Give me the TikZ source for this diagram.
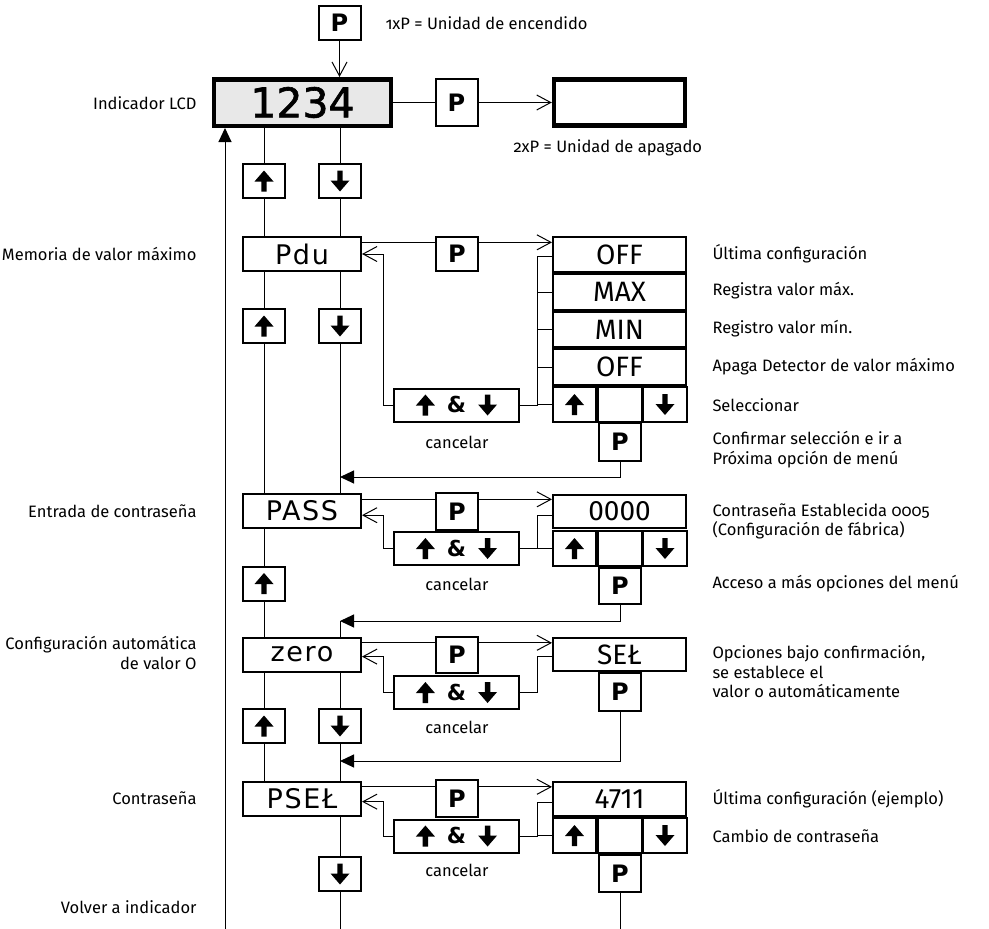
\documentclass[tikz,border=0pt]{standalone}
\usepackage{fontspec}
\setmainfont{Fira Sans}[Numbers=OldStyle]
\newfontfamily\lcdfont{DejaVu Sans}[LetterSpace=6]
\newfontfamily\bigfont{DejaVu Sans}[FakeBold=1.5]
\newfontfamily\keyfont{DejaVu Sans}
\newfontfamily\optfont{Fira Sans}
\usetikzlibrary{arrows.meta}

% heavy arrow keys
\newcommand{\keyup}{\tikz[x=1pt,y=1pt,baseline=-7pt,line width=0pt]
  \fill (0,11) -- (9.5,0) -- (2.7,0) -- (2.7,-10) -- (-2.7,-10) -- (-2.7,0) -- (-9.5,0) -- cycle;}
\newcommand{\keydn}{\tikz[x=1pt,y=1pt,baseline=-7pt,line width=0pt]
  \fill (0,-10) -- (9.5,1) -- (2.7,1) -- (2.7,11) -- (-2.7,11) -- (-2.7,1) -- (-9.5,1) -- cycle;}
\newcommand{\updn}{\keyup\hspace{12pt}\&\hspace{12pt}\keydn}

\begin{document}
\begin{tikzpicture}[x=1pt,y=-1pt,line width=1pt,
  >={Straight Barb[length=14pt,width=15pt]},
  back/.style={-{Triangle[length=14pt,width=13pt]}},
  lcd/.style={draw,line width=4.5pt,fill=gray!18,minimum width=177pt,minimum height=46.5pt,inner sep=0pt,font=\bigfont\fontsize{41}{41}\selectfont},
  disp/.style={draw,line width=2pt,minimum width=118pt,minimum height=34pt,inner sep=0pt,font=\lcdfont\fontsize{27}{27}\selectfont},
  key/.style={draw,fill=white,line width=2pt,minimum width=42pt,minimum height=34pt,inner sep=0pt,font=\keyfont\bfseries\fontsize{24}{24}\selectfont},
  opt/.style={draw,line width=2pt,minimum width=133pt,minimum height=35.5pt,inner sep=0pt,font=\optfont\fontsize{28}{28}\selectfont},
  cell/.style={key,minimum width=43.5pt,minimum height=35.5pt},
  both/.style={key,minimum width=125pt,minimum height=33pt,font=\keyfont\bfseries\fontsize{22}{22}\selectfont},
  lbl/.style={inner sep=0pt,font=\fontsize{16.5}{19.5}\selectfont}]
\useasboundingbox (0,0) rectangle (989,929);

% display and power key
\node[key] (p0) at (339.5,23) {P};
\node[lbl,anchor=west] (t0) at (385,23) {1xP = Unidad de encendido};
\node[lcd] (lcd) at (302.5,102.5) {1234};
\node[key,minimum height=47pt] (p1) at (456.5,102.5) {P};
\node[lcd,fill=none,minimum width=131pt,minimum height=46pt] (blank) at (619.5,102.5) {};
\node[lbl,anchor=west] (t1) at (513,148) {2xP = Unidad de apagado};
\node[key] (u1) at (264,181) {\keyup};
\node[key] (d1) at (340,181) {\keydn};

% Pdu
\node[disp] (pdu) at (302,254) {Pdu};
\node[key] (p2) at (457,254) {P};
\node[opt] (o1) at (619.5,254.5) {OFF};
\node[opt] (o2) at (619.5,292) {MAX};
\node[opt] (o3) at (619.5,329.5) {MIN};
\node[opt] (o4) at (619.5,367) {OFF};
\node[cell] (c1l) at (574.5,404.5) {\keyup};
\node[cell] (c1m) at (620,404.5) {};
\node[cell] (c1r) at (665,404.5) {\keydn};
\node[both] (b1) at (456.5,405) {\updn};
\node[lbl] (x1) at (457,442) {cancelar};
\node[key,minimum height=38pt] (s1) at (620,442) {P};
\node[key] (u2) at (264,326) {\keyup};
\node[key] (d2) at (340,326) {\keydn};

% PASS
\node[disp] (pass) at (302,511) {PASS};
\node[key,minimum height=37pt] (p3) at (457,511.5) {P};
\node[both] (b2) at (456.5,548.5) {\updn};
\node[opt,minimum height=33pt] (o5) at (619.5,511.5) {0000};
\node[cell] (c2l) at (574.5,548.5) {\keyup};
\node[cell] (c2m) at (620,548.5) {};
\node[cell] (c2r) at (665,548.5) {\keydn};
\node[lbl] (x2) at (457,584) {cancelar};
\node[key,minimum height=36pt] (s2) at (620,586) {P};
\node[key] (u3) at (264,583.5) {\keyup};

% zero
\node[disp] (zero) at (302,654.5) {zero};
\node[key,minimum height=36pt] (p4) at (457,655) {P};
\node[both] (b3) at (456.5,692.5) {\updn};
\node[opt,minimum height=33.5pt] (o6) at (619.5,654.5) {SEŁ};
\node[key,minimum height=38pt] (s3) at (620,692) {P};
\node[lbl] (x3) at (457,727) {cancelar};
\node[key] (u4) at (264,726) {\keyup};
\node[key] (d4) at (340,726) {\keydn};

% PSEL
\node[disp] (psel) at (302,798.5) {PSEŁ};
\node[key,minimum height=37pt] (p5) at (457,798.5) {P};
\node[both] (b4) at (456.5,836) {\updn};
\node[opt,minimum height=34pt] (o7) at (619.5,799) {4711};
\node[cell] (c4l) at (574.5,835.5) {\keyup};
\node[cell] (c4m) at (620,835.5) {};
\node[cell] (c4r) at (665,835.5) {\keydn};
\node[lbl] (x4) at (457,870) {cancelar};
\node[key,minimum height=37pt] (s4) at (620,873.5) {P};
\node[key] (d5) at (340,874) {\keydn};

\coordinate (r1) at (340,477);
\coordinate (r2) at (340,621);
\coordinate (r3) at (340,761);
\coordinate (e0) at (225,929);
\coordinate (e1) at (340,929);
\coordinate (e2) at (620,929);

% left texts
\node[lbl,anchor=east] (l0) at (197,103) {Indicador LCD};
\node[lbl,anchor=east] (l1) at (197,254) {Memoria de valor máximo};
\node[lbl,anchor=east] (l2) at (197,511) {Entrada de contraseña};
\node[lbl,anchor=east,align=right] (l3) at (197,653) {Configuración automática\\de valor O};
\node[lbl,anchor=east] (l4) at (197,798) {Contraseña};
\node[lbl,anchor=east] (l5) at (197,907) {Volver a indicador};

% right texts
\node[lbl,anchor=west] (m1) at (712,254) {Última configuración};
\node[lbl,anchor=west] (m2) at (712,291) {Registra valor máx.};
\node[lbl,anchor=west] (m3) at (712,329) {Registro valor mín.};
\node[lbl,anchor=west] (m4) at (712,367) {Apaga Detector de valor máximo};
\node[lbl,anchor=west] (m5) at (712,405) {Seleccionar};
\node[lbl,anchor=west,align=left] (m6) at (712,449.5) {Confirmar selección e ir a\\Próxima opción de menú};
\node[lbl,anchor=west,align=left] (m7) at (712,521.5) {Contraseña Establecida 0005\\(Configuración de fábrica)};
\node[lbl,anchor=west] (m8) at (712,584) {Acceso a más opciones del menú};
\node[lbl,anchor=west,align=left] (m9) at (712,671.5) {Opciones bajo confirmación,\\se establece el\\valor o automáticamente};
\node[lbl,anchor=west] (m10) at (712,799) {Última configuración (ejemplo)};
\node[lbl,anchor=west] (m11) at (712,836) {Cambio de contraseña};

% connectors
\draw[->] (p0) -- (p0 |- lcd.north);
\draw (lcd) -- (p1);
\draw[->] (p1) -- (blank);
\foreach \k/\a/\b in {u1/lcd/pdu, d1/lcd/pdu, u2/pdu/pass, d2/pdu/pass,
                      u3/pass/zero, u4/zero/psel, d4/zero/psel}
  {\draw (\k |- \a.south) -- (\k);
   \draw (\k) -- (\k |- \b.north);}
\draw (d5 |- psel.south) -- (d5);
\draw (d5) -- (e1);
\draw (r2) -- (r2 |- zero.north);
\draw[back] (e0) -- (e0 |- lcd.south);

\foreach \d/\p/\o in {pdu/p2/o1, pass/p3/o5, zero/p4/o6, psel/p5/o7}
  {\draw (\d.11) -- (\d.11 -| \p.west);
   \draw[->] (\d.11 -| \p.east) -- (\d.11 -| \o.west);}

\draw[->] (b1.west) -- ++(-10,0) |- (pdu.east);
\draw[->] (b2.west) -- ++(-10,0) |- (pass.-4);
\draw[->] (b3.west) -- ++(-10,0) |- (zero.-2);
\draw[->] (b4.west) -- ++(-10,0) |- (psel.-3);

\foreach \n in {o1.182, o2.west, o3.west, o4.west, c1l.west}
  \draw (b1.east) -- ++(17,0) |- (\n);
\foreach \n in {o5.183, c2l.west}
  \draw (b2.east) -- ++(17,0) |- (\n);
\draw (b3.east) -- ++(17,0) |- (o6.182);
\foreach \n in {o7.183, c4l.west}
  \draw (b4.east) -- ++(17,0) |- (\n);

\draw[back] (s1) |- (r1);
\draw[back] (s2) |- (r2);
\draw[back] (s3) |- (r3);
\draw (s4) -- (e2);
\end{tikzpicture}
\end{document}
